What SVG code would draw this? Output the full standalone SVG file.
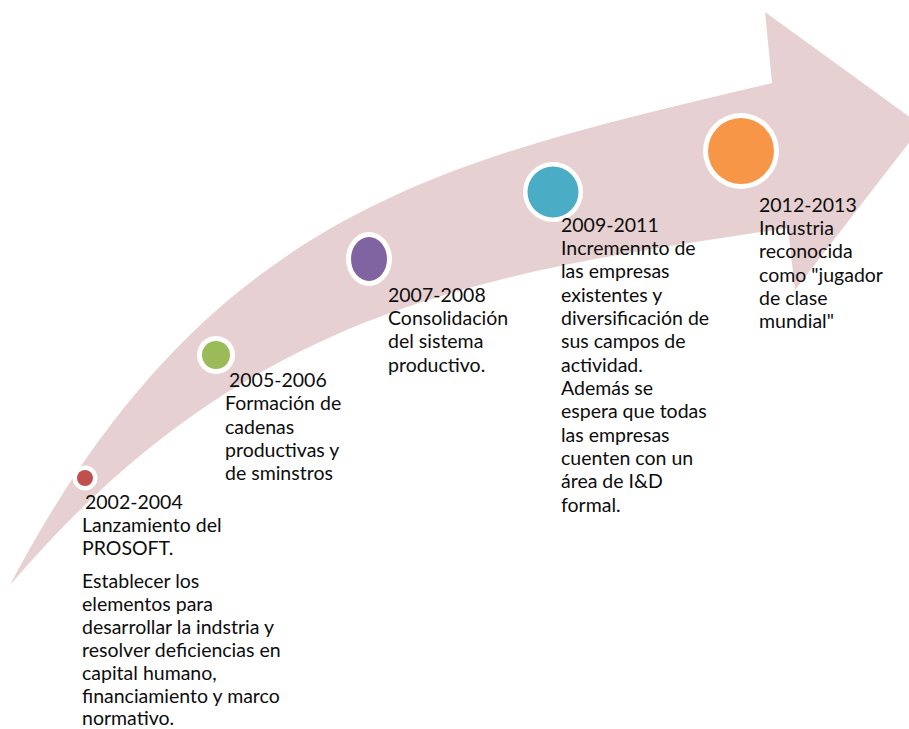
<svg xmlns="http://www.w3.org/2000/svg" width="909" height="729" viewBox="0 0 909 729">
<style>
.t{font-family:Lato,"Liberation Sans",sans-serif;font-size:19.5px;fill:#0d0d0d}
.ring{fill:#fff}
</style>
<rect width="909" height="729" fill="#fff"/>
<g id="arrow">
<path d="M10,585 C210,205 450,160 772,83 L765,12 L922,126 L795,290 L788,228 C488,273 250,304 10,585 Z" fill="#E7D0D1"/>
</g>
<g id="node1">
<circle cx="85" cy="478" r="12.5" class="ring"/>
<circle cx="85" cy="478" r="8" fill="#C0504D"/>
<text class="t"><tspan x="85" y="509">2002-2004</tspan><tspan x="82" y="532">Lanzamiento del</tspan><tspan x="82" y="555">PROSOFT.</tspan><tspan x="82" y="588">Establecer los</tspan><tspan x="82" y="611">elementos para</tspan><tspan x="82" y="634">desarrollar la indstria y</tspan><tspan x="82" y="657">resolver deficiencias en</tspan><tspan x="82" y="680">capital humano,</tspan><tspan x="82" y="703">financiamiento y marco</tspan><tspan x="82" y="725">normativo.</tspan></text>
</g>
<g id="node2">
<circle cx="216" cy="355" r="19" class="ring"/>
<circle cx="216" cy="355" r="14" fill="#9BBB59"/>
<text class="t"><tspan x="229" y="387">2005-2006</tspan><tspan x="225" y="410">Formación de</tspan><tspan x="225" y="434">cadenas</tspan><tspan x="225" y="457">productivas y</tspan><tspan x="225" y="480">de sminstros</tspan></text>
</g>
<g id="node3">
<ellipse cx="369" cy="259" rx="23" ry="27" class="ring"/>
<ellipse cx="369" cy="259" rx="18" ry="22" fill="#8064A2"/>
<text class="t"><tspan x="388" y="302">2007-2008</tspan><tspan x="388" y="325">Consolidación</tspan><tspan x="388" y="348">del sistema</tspan><tspan x="388" y="372">productivo.</tspan></text>
</g>
<g id="node4">
<circle cx="553" cy="192" r="30" class="ring"/>
<circle cx="553" cy="192" r="25.5" fill="#4BACC6"/>
<text class="t"><tspan x="561" y="232">2009-2011</tspan><tspan x="561" y="255">Incremennto de</tspan><tspan x="561" y="278">las empresas</tspan><tspan x="561" y="302">existentes y</tspan><tspan x="561" y="325">diversificación de</tspan><tspan x="561" y="348">sus campos de</tspan><tspan x="561" y="372">actividad.</tspan><tspan x="561" y="395">Además se</tspan><tspan x="561" y="418">espera que todas</tspan><tspan x="561" y="442">las empresas</tspan><tspan x="561" y="465">cuenten con un</tspan><tspan x="561" y="488">área de I&amp;D</tspan><tspan x="561" y="512">formal.</tspan></text>
</g>
<g id="node5">
<circle cx="741" cy="151" r="38" class="ring"/>
<circle cx="741" cy="151" r="33" fill="#F79646"/>
<text class="t"><tspan x="759" y="212">2012-2013</tspan><tspan x="759" y="235">Industria</tspan><tspan x="759" y="258">reconocida</tspan><tspan x="759" y="282">como "jugador</tspan><tspan x="759" y="305">de clase</tspan><tspan x="759" y="328">mundial"</tspan></text>
</g>
<g id="connectors"/>
</svg>
